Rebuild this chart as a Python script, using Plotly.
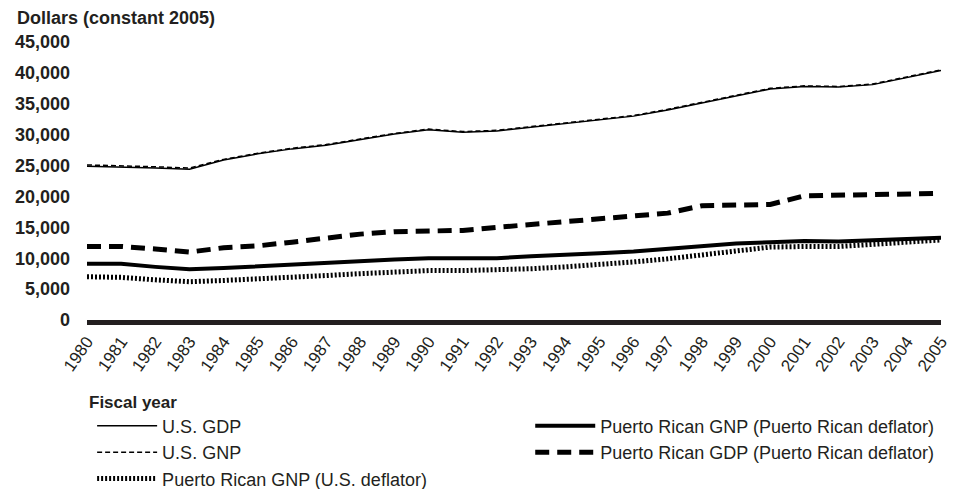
import plotly.graph_objects as go

years = list(range(1980, 2006))

us_gdp = [24900, 24800, 24600, 24400, 25900, 26900, 27700, 28300, 29200, 30100,
          30800, 30400, 30600, 31200, 31800, 32500, 33000, 34000, 35100, 36200,
          37400, 37800, 37700, 38100, 39300, 40400]
us_gnp = [25100, 25000, 24800, 24600, 26000, 27000, 27800, 28400, 29300, 30200,
          30900, 30500, 30700, 31300, 31900, 32600, 33100, 34100, 35200, 36300,
          37500, 37900, 37800, 38200, 39400, 40500]
pr_gnp_pr = [9100, 9100, 8600, 8200, 8400, 8700, 8900, 9200, 9500, 9800,
             10000, 10000, 10000, 10300, 10500, 10800, 11100, 11500, 11850, 12400,
             12600, 12800, 12700, 12900, 13100, 13300]
pr_gdp_pr = [11900, 11900, 11500, 11000, 11700, 12000, 12600, 13300, 13900, 14300,
             14500, 14500, 15000, 15500, 16000, 16500, 16900, 17300, 18500, 18600,
             18700, 20100, 20200, 20300, 20500, 20500]
pr_gnp_us = [7000, 6900, 6500, 6200, 6400, 6600, 6900, 7200, 7500, 7800,
             8000, 8000, 8100, 8300, 8600, 8900, 9400, 9900, 10500, 11200,
             11800, 11900, 11900, 12250, 12600, 12950]

y_ticks = list(range(0, 45001, 5000))
y_labels = [f"{v:,}" for v in y_ticks]

FONT = "Arial, Liberation Sans, Helvetica, sans-serif"
INK = "#231f20"

fig = go.Figure()
# left legend column
fig.add_trace(go.Scatter(x=years, y=us_gdp, mode="lines", name="U.S. GDP",
                         legend="legend", line=dict(color="black", width=1.5)))
fig.add_trace(go.Scatter(x=years, y=us_gnp, mode="lines", name="U.S. GNP",
                         legend="legend",
                         line=dict(color="black", width=1.5, dash="5px,3px")))
fig.add_trace(go.Scatter(x=years, y=pr_gnp_us, mode="lines",
                         name="Puerto Rican GNP (U.S. deflator)", legend="legend",
                         line=dict(color="black", width=5, dash="2px,2px")))
# right legend column
fig.add_trace(go.Scatter(x=years, y=pr_gnp_pr, mode="lines",
                         name="Puerto Rican GNP (Puerto Rican deflator)",
                         legend="legend2", line=dict(color="black", width=4)))
fig.add_trace(go.Scatter(x=years, y=pr_gdp_pr, mode="lines",
                         name="Puerto Rican GDP (Puerto Rican deflator)",
                         legend="legend2",
                         line=dict(color="black", width=5, dash="14px,8px")))

leg = dict(orientation="v", y=-0.315, xanchor="left", yanchor="top",
           itemwidth=60, font=dict(size=18, color=INK), traceorder="normal",
           bgcolor="rgba(0,0,0,0)")

# page is drawn with an 8px body margin, margins below account for it
fig.update_layout(
    width=957, height=489,
    margin=dict(l=79, r=24, t=34, b=177, autoexpand=False),
    paper_bgcolor="white", plot_bgcolor="white",
    font=dict(family=FONT, color=INK, size=17),
    showlegend=True,
    legend=dict(leg, x=0.006),
    legend2=dict(leg, x=0.519),
    annotations=[
        dict(text="<b>Dollars (constant 2005)</b>", xref="paper", yref="paper",
             x=-0.084, y=1.086, xanchor="left", yanchor="middle", showarrow=False,
             font=dict(size=18, family=FONT, color=INK)),
        dict(text="<b>Fiscal year</b>", xref="paper", yref="paper",
             x=0.0, y=-0.295, xanchor="left", yanchor="middle", showarrow=False,
             font=dict(size=17, family=FONT, color=INK)),
    ],
)

fig.update_xaxes(range=[1980, 2005], tickmode="array", tickvals=years,
                 ticktext=[str(y) for y in years], tickangle=-55,
                 showgrid=False, zeroline=False, showline=True,
                 linecolor=INK, linewidth=5, ticks="",
                 tickfont=dict(size=17, family=FONT, color=INK))
fig.update_yaxes(range=[0, 45000], tickmode="array", tickvals=y_ticks,
                 ticktext=[f"<b>{t}</b>" for t in y_labels],
                 showgrid=False, zeroline=False, showline=False, ticks="",
                 ticklabelstandoff=16,
                 tickfont=dict(size=18, family=FONT, color=INK))

fig.write_html("out.html")
